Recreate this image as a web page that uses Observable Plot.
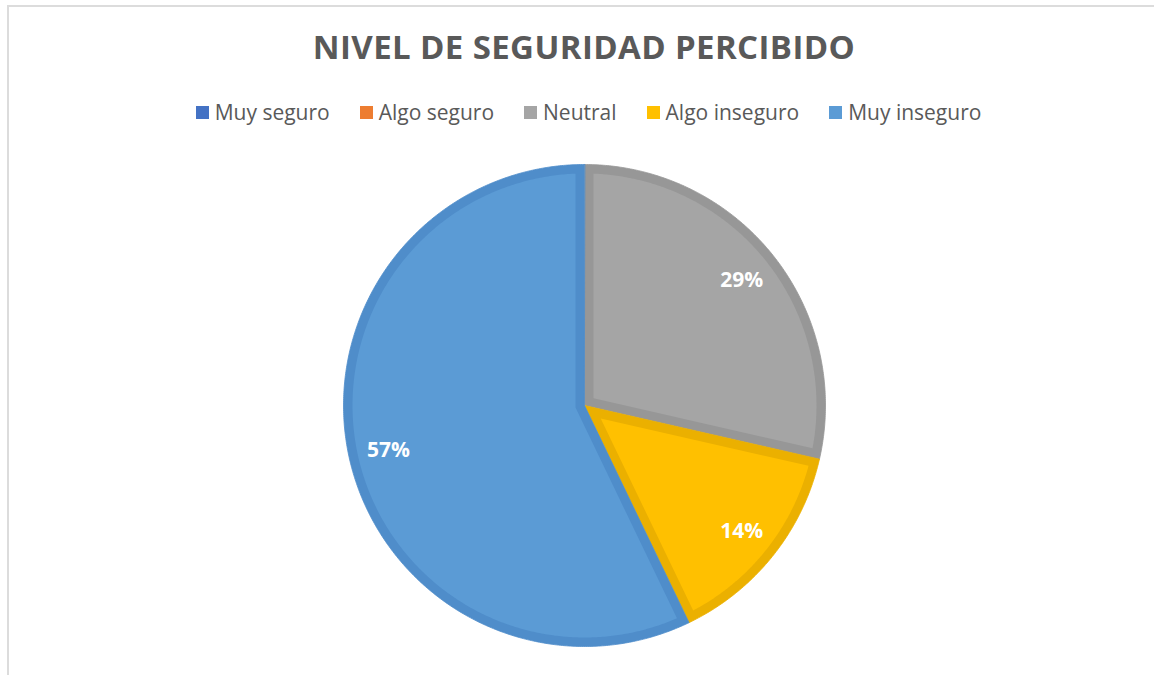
<!DOCTYPE html>
<html><head><meta charset="utf-8">
<script src="https://cdn.jsdelivr.net/npm/d3@7"></script>
<script src="https://cdn.jsdelivr.net/npm/@observablehq/plot@0.6"></script>
<style>
html,body{margin:0;padding:0;background:#fff;overflow:hidden;width:1154px;height:675px;position:relative}
#frame{position:absolute;left:7px;top:5px;width:1200px;height:720px;border-top:2px solid #dcdcdc;border-left:2px solid #dcdcdc;box-sizing:border-box}
#title{position:absolute;left:0;width:1168px;top:27px;line-height:40px;text-align:center;font-family:"Open Sans";font-weight:700;font-size:33px;color:#595959;white-space:nowrap}
#legend{position:absolute;left:0;width:1177px;top:97px;height:30px;display:flex;justify-content:center;align-items:center;gap:30px;font-family:"Open Sans";font-size:21px;line-height:30px;color:#595959;white-space:nowrap}
#legend .item{display:flex;align-items:center}
#legend .sw{width:13px;height:13px;margin-right:6px;display:inline-block}
#chart{position:absolute;left:0;top:150px}
</style></head>
<body>
<div id="frame"></div>
<div id="title"><span id="titletext">NIVEL DE SEGURIDAD PERCIBIDO</span></div>
<div id="legend"></div>
<div id="chart"></div>
<script>
// ---- data ----
const titleText = "NIVEL DE SEGURIDAD PERCIBIDO";
const categories = ["Muy seguro", "Algo seguro", "Neutral", "Algo inseguro", "Muy inseguro"];
const counts = [0, 0, 2, 1, 4];

// ---- styles ----
const fillColors = ["#4472C4", "#ED7D31", "#A5A5A5", "#FFC000", "#5B9BD5"];
const edgeColors = ["#3B66B3", "#D46F2B", "#979797", "#EBB000", "#4F8DCA"];

// title width fit
const tt = document.getElementById("titletext");
const w0 = tt.getBoundingClientRect().width;
tt.style.letterSpacing = ((542 - w0) / (titleText.length - 1)) + "px";

// legend
const legend = document.getElementById("legend");
categories.forEach((c, i) => {
  const it = document.createElement("div");
  it.className = "item";
  const sw = document.createElement("span");
  sw.className = "sw";
  sw.style.background = fillColors[i];
  it.appendChild(sw);
  it.appendChild(document.createTextNode(c));
  legend.appendChild(it);
});

// pie geometry
const total = d3.sum(counts);
const arcs = d3.pie().sort(null).value(d => d)(counts);
const R = 241;             // pixel radius (used for inset ratio)
const d = 9 / R;           // border inset in unit radius
const pt = (a, r) => ({x: r * Math.sin(a), y: r * Math.cos(a)});

const outer = [], inner = [], labels = [];
arcs.forEach((a, i) => {
  if (counts[i] <= 0) return;
  const a0 = a.startAngle, a1 = a.endAngle, th = a1 - a0;
  const n = Math.max(8, Math.ceil(th / (Math.PI / 360)));
  const full = th >= 2 * Math.PI - 1e-9;
  if (!full) outer.push({k: i, ...pt(0, 0)});
  for (let j = 0; j <= n; j++) outer.push({k: i, ...pt(a0 + th * j / n, 1)});
  const rho = 1 - d;
  const off = Math.asin(d / rho);
  const mid = (a0 + a1) / 2;
  inner.push({k: i, ...pt(mid, d / Math.sin(th / 2))});
  for (let j = 0; j <= n; j++) inner.push({k: i, ...pt(a0 + off + (th - 2 * off) * j / n, rho)});
  labels.push({k: i, ...pt(mid, 0.834), text: Math.round(counts[i] / total * 100) + "%"});
});

const chart = Plot.plot({
  width: 1154,
  height: 520,
  marginLeft: 343,
  marginRight: 329,
  marginTop: 14,
  marginBottom: 24,
  x: {domain: [-1, 1], axis: null},
  y: {domain: [-1, 1], axis: null},
  style: {background: "transparent", overflow: "visible"},
  marks: [
    Plot.line(outer, {x: "x", y: "y", z: "k", fill: d => edgeColors[d.k], stroke: d => edgeColors[d.k], strokeWidth: 0.8, curve: "linear-closed"}),
    Plot.line(inner, {x: "x", y: "y", z: "k", fill: d => fillColors[d.k], stroke: "none", curve: "linear-closed"}),
    Plot.text(labels, {x: "x", y: "y", text: "text", fill: "white", fontSize: 21, fontWeight: "bold", fontFamily: "Open Sans"})
  ],
  color: {type: "identity"}
});
document.getElementById("chart").appendChild(chart);
</script>
</body></html>
